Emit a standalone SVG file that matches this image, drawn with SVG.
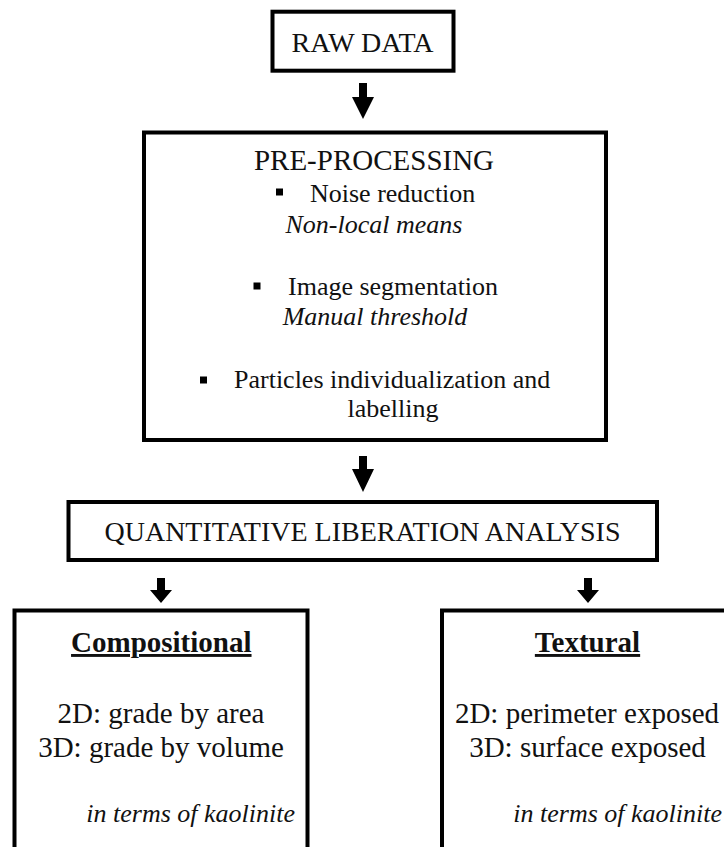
<svg xmlns="http://www.w3.org/2000/svg" width="724" height="847" viewBox="0 0 724 847">
<style>
.box{fill:#fff;stroke:#000;stroke-width:4}
text{font-family:'Liberation Serif','DejaVu Serif',serif;fill:#111}
.h{font-size:28px}
.b{font-size:26px}
.i{font-size:26px;font-style:italic}
.bt{font-size:29px;font-weight:bold;text-decoration:underline}
.c{font-size:29px}
.ar{fill:#000}
</style>
<rect width="724" height="847" fill="#fff"/>
<g id="connectors">
<polygon class="ar" points="359,83 367,83 367,97 374,97 363,119 352,97 359,97"/>
<polygon class="ar" points="359,456 367,456 367,469 374,469 363,492 352,469 359,469"/>
<polygon class="ar" points="157,578 165,578 165,590 172,590 161,603 150,590 157,590"/>
<polygon class="ar" points="584,578 592,578 592,590 599,590 588,603 577,590 584,590"/>
</g>
<g id="raw-data" font-family="Liberation Serif, serif">
<rect class="box" x="272.5" y="11.7" width="181" height="59" stroke-width="3.5"/>
<text class="h" x="362.5" y="52" text-anchor="middle">RAW DATA</text>
</g>
<g id="pre-processing" font-family="Liberation Serif, serif">
<rect class="box" x="144" y="132.5" width="462" height="307.5"/>
<text x="374" y="170" font-size="29" text-anchor="middle">PRE-PROCESSING</text>
<rect x="276" y="188.5" width="7" height="7" fill="#000"/>
<text class="b" x="310" y="202">Noise reduction</text>
<text class="i" x="374" y="233" text-anchor="middle">Non-local means</text>
<rect x="253.5" y="282.5" width="7" height="7" fill="#000"/>
<text class="b" x="288" y="295">Image segmentation</text>
<text class="i" x="375" y="325" text-anchor="middle">Manual threshold</text>
<rect x="200" y="376.5" width="7" height="7" fill="#000"/>
<text class="b" x="234" y="388">Particles individualization and</text>
<text class="b" x="393" y="417" text-anchor="middle">labelling</text>
</g>
<g id="quantitative-liberation-analysis" font-family="Liberation Serif, serif">
<rect class="box" x="68.5" y="502" width="588.5" height="58" stroke-width="3.5"/>
<text class="h" x="362.5" y="541" text-anchor="middle">QUANTITATIVE LIBERATION ANALYSIS</text>
</g>
<g id="compositional" font-family="Liberation Serif, serif">
<rect class="box" x="14.5" y="610.5" width="293" height="260"/>
<text class="bt" x="161.3" y="652" text-anchor="middle">Compositional</text>
<text class="c" x="161" y="722.5" text-anchor="middle">2D: grade by area</text>
<text class="c" x="161" y="756.5" text-anchor="middle">3D: grade by volume</text>
<text class="i" x="295" y="822" text-anchor="end" font-size="25.5">in terms of kaolinite</text>
</g>
<g id="textural" font-family="Liberation Serif, serif">
<rect class="box" x="442" y="610.5" width="293" height="260"/>
<text class="bt" x="587.5" y="652" text-anchor="middle">Textural</text>
<text class="c" x="587" y="722.5" text-anchor="middle">2D: perimeter exposed</text>
<text class="c" x="587.5" y="756.5" text-anchor="middle">3D: surface exposed</text>
<text class="i" x="722" y="822" text-anchor="end" font-size="25.5">in terms of kaolinite</text>
</g>
</svg>
